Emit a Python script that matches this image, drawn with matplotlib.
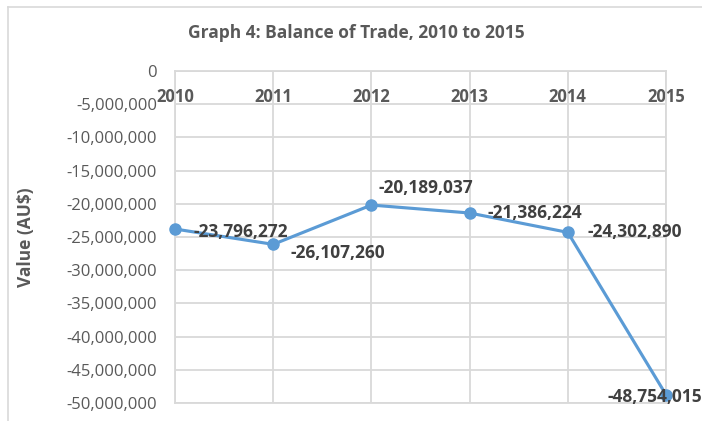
import matplotlib.pyplot as plt
from matplotlib.lines import Line2D
from matplotlib.ticker import FuncFormatter

# data
years = [2010, 2011, 2012, 2013, 2014, 2015]
balance = [-23796272, -26107260, -20189037, -21386224, -24302890, -48754015]
# where each data label sits relative to its point (dx, dy in pixels, ha)
label_pos = [
    (18, -3, 'left'),
    (17, -9, 'left'),
    (7, 17, 'left'),
    (18, 0, 'left'),
    (20, 0, 'left'),
    (-11, -2, 'center'),
]

plt.rcParams['font.family'] = ['Open Sans', 'DejaVu Sans']

fig = plt.figure(figsize=(7.02, 4.21), dpi=100)
ax = fig.add_axes([175 / 702, 1 - 403 / 421, (666 - 175) / 702, (403 - 71) / 421])

ax.plot(years, balance, color='#5B9BD5', lw=2.25, marker='o', ms=8, zorder=5, clip_on=False)

ax.set_xlim(2010, 2015)
ax.set_ylim(-50000000, 0)
ax.set_yticks(range(-50000000, 1, 5000000))
ax.yaxis.set_major_formatter(FuncFormatter(lambda v, p: f"{int(v):,}"))
ax.set_xticks(years)
ax.set_xticklabels([str(y) for y in years], fontweight='bold', fontsize=12, color='#595959')

# x axis sits at the top (value 0), labels hang below it
ax.xaxis.tick_top()
ax.tick_params(axis='x', length=0, pad=-25)
ax.tick_params(axis='y', length=0, pad=13, labelsize=12, labelcolor='#595959')

ax.grid(True, color='#D9D9D9', lw=1.3)
ax.set_axisbelow(True)
for s in ax.spines.values():
    s.set_color('#D9D9D9')
    s.set_linewidth(1.3)

# data labels
for x, y, (dx, dy, ha) in zip(years, balance, label_pos):
    ax.annotate(f"{y:,}", (x, y), xytext=(dx * 0.72, dy * 0.72), textcoords='offset points',
                ha=ha, va='center', fontsize=12.5, fontweight='bold', color='#404040', zorder=6,
                annotation_clip=False)

ax.set_ylabel("Value (AU\\$)", fontsize=12.5, fontweight='bold', color='#595959')
ax.yaxis.set_label_coords(-0.285, 0.5)

fig.text(0.5 + 0.008, 1 - 33 / 421, "Graph 4: Balance of Trade, 2010 to 2015",
         ha='center', va='center', fontsize=12.5, fontweight='bold', color='#595959')

# chart border (top & left visible in the crop)
fig.add_artist(Line2D([8 / 702, 8 / 702], [0, 1 - 7 / 421], color='#D9D9D9', lw=1.2,
                      transform=fig.transFigure))
fig.add_artist(Line2D([8 / 702, 1], [1 - 7 / 421, 1 - 7 / 421], color='#D9D9D9', lw=1.2,
                      transform=fig.transFigure))

fig.savefig("out.png", dpi=100)
